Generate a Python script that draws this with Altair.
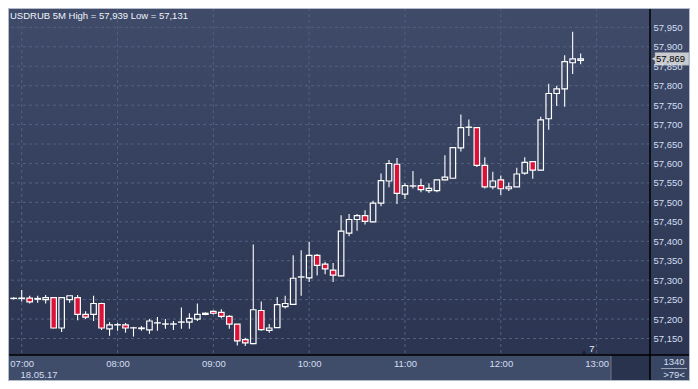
import altair as alt
import pandas as pd

# ---- data (USDRUB 5M, 18.05.17) ----
start_min = 6 * 60 + 55  # first candle 06:55
opens = [57.253, 57.253, 57.254, 57.251, 57.250, 57.255, 57.177, 57.250, 57.255, 57.212,
         57.212, 57.240, 57.175, 57.185, 57.185, 57.177, 57.1755, 57.172, 57.190, 57.187,
         57.187, 57.192, 57.192, 57.200, 57.212, 57.220, 57.217, 57.207, 57.187, 57.147,
         57.137, 57.222, 57.171, 57.178, 57.232, 57.238, 57.308, 57.306, 57.364, 57.341,
         57.326, 57.311, 57.421, 57.456, 57.466, 57.450, 57.498, 57.555, 57.598, 57.521,
         57.542, 57.543, 57.530, 57.530, 57.558, 57.562, 57.640, 57.693, 57.692, 57.595,
         57.540, 57.558, 57.535, 57.540, 57.575, 57.605, 57.583, 57.715, 57.780, 57.792,
         57.859, 57.865]
highs = [57.256, 57.275, 57.260, 57.260, 57.262, 57.257, 57.256, 57.260, 57.262, 57.220,
         57.260, 57.242, 57.192, 57.190, 57.190, 57.180, 57.182, 57.200, 57.205, 57.200,
         57.195, 57.230, 57.215, 57.240, 57.217, 57.222, 57.225, 57.210, 57.187, 57.152,
         57.392, 57.245, 57.187, 57.257, 57.260, 57.364, 57.377, 57.399, 57.367, 57.347,
         57.344, 57.467, 57.470, 57.470, 57.480, 57.504, 57.574, 57.609, 57.614, 57.549,
         57.581, 57.561, 57.549, 57.559, 57.621, 57.642, 57.726, 57.713, 57.694, 57.616,
         57.579, 57.569, 57.551, 57.589, 57.616, 57.606, 57.720, 57.805, 57.800, 57.878,
         57.939, 57.883]
lows = [57.250, 57.245, 57.240, 57.242, 57.240, 57.176, 57.167, 57.242, 57.197, 57.200,
        57.195, 57.172, 57.157, 57.170, 57.165, 57.155, 57.170, 57.162, 57.170, 57.175,
        57.172, 57.175, 57.175, 57.195, 57.210, 57.212, 57.202, 57.175, 57.132, 57.131,
        57.135, 57.170, 57.165, 57.177, 57.227, 57.237, 57.260, 57.295, 57.312, 57.315,
        57.295, 57.310, 57.413, 57.427, 57.443, 57.449, 57.490, 57.539, 57.496, 57.509,
        57.536, 57.526, 57.524, 57.526, 57.556, 57.561, 57.631, 57.671, 57.591, 57.536,
        57.534, 57.519, 57.529, 57.540, 57.571, 57.561, 57.582, 57.687, 57.748, 57.746,
        57.830, 57.855]
closes = [57.2535, 57.254, 57.244, 57.253, 57.255, 57.177, 57.255, 57.260, 57.212, 57.205,
          57.240, 57.177, 57.185, 57.1855, 57.177, 57.1775, 57.177, 57.195, 57.1905, 57.1875,
          57.1875, 57.1925, 57.202, 57.212, 57.215, 57.215, 57.207, 57.187, 57.144, 57.139,
          57.224, 57.173, 57.177, 57.237, 57.240, 57.305, 57.3085, 57.364, 57.338, 57.329,
          57.313, 57.426, 57.456, 57.466, 57.451, 57.498, 57.556, 57.600, 57.523, 57.543,
          57.5425, 57.533, 57.536, 57.558, 57.565, 57.641, 57.692, 57.6935, 57.595, 57.540,
          57.555, 57.535, 57.540, 57.573, 57.603, 57.583, 57.712, 57.780, 57.792, 57.862,
          57.869, 57.869]
times = [start_min + 5 * i for i in range(len(opens))]

y_ticks = [57.15, 57.20, 57.25, 57.30, 57.35, 57.40, 57.45, 57.50, 57.55,
           57.60, 57.65, 57.70, 57.75, 57.80, 57.85, 57.90, 57.95]
x_ticks = [420, 480, 540, 600, 660, 720, 780]  # 07:00 ... 13:00
title_text = "USDRUB 5M High = 57,939 Low = 57,131"
date_text = "18.05.17"
last_price = [57.869]
last_label = ["57,869"]

W, H = 642, 347
RP, BP = 40, 26
FONT = "Liberation Sans"
LABEL = "#d3def1"
FS = 9.5

df = pd.DataFrame({"t": times, "o": opens, "h": highs, "l": lows, "c": closes})

xs = alt.Scale(domain=[414.55, 810.3], nice=False, zero=False)
ys = alt.Scale(domain=[57.1076, 57.9998], nice=False, zero=False)

x_axis = alt.Axis(values=x_ticks, title=None, grid=False, ticks=False, domain=False,
                  labelExpr="(floor(datum.value/60) < 10 ? '0' : '') + floor(datum.value/60) + ':00'",
                  labelFont=FONT, labelFontSize=FS, labelColor=LABEL,
                  labelBaseline="middle", labelPadding=8, labelFlush=False,
                  labelOverlap=False, orient="bottom")
y_axis = alt.Axis(values=y_ticks, title=None, grid=False, ticks=False, domain=False,
                  orient="right", labelExpr="replace(format(datum.value, '.3f'), '.', ',')",
                  labelFont=FONT, labelFontSize=FS, labelColor=LABEL,
                  labelPadding=3, labelFlush=False, labelOverlap=False, zindex=1)

one = pd.DataFrame({"a": [0]})

bg = alt.Chart(one).mark_rect(
    color=alt.Gradient(gradient="linear",
                       stops=[alt.GradientStop(color="#3f4b69", offset=0),
                              alt.GradientStop(color="#2b3552", offset=1)],
                       x1=0, x2=0, y1=0, y2=1)
).encode(x=alt.value(0), x2=alt.value(W + RP), y=alt.value(0), y2=alt.value(H))

corner = alt.Chart(one).mark_rect(color="#394663").encode(
    x=alt.value(W), x2=alt.value(W + RP), y=alt.value(H), y2=alt.value(H + BP))

scroll = alt.Chart(one).mark_rect(color="#29334e").encode(
    x=alt.value(603), x2=alt.value(W), y=alt.value(H), y2=alt.value(H + BP))
scroll_edge = alt.Chart(one).mark_rule(color="#6c768c", strokeWidth=1).encode(
    x=alt.value(603), y=alt.value(H + 1), y2=alt.value(H + BP - 1))

grid_y = alt.Chart(pd.DataFrame({"v": y_ticks})).mark_rule(
    color="#53617f", strokeWidth=1, strokeDash=[3, 3]
).encode(y=alt.Y("v:Q", scale=ys, axis=y_axis))

grid_x = alt.Chart(pd.DataFrame({"v": x_ticks})).mark_rule(
    color="#53617f", strokeWidth=1, strokeDash=[3, 3]
).encode(x=alt.X("v:Q", scale=xs, axis=x_axis))

base = alt.Chart(df).transform_calculate(
    bot="min(datum.o, datum.c)", top="max(datum.o, datum.c)")

wick_lo = base.mark_rule(color="white", strokeWidth=1.1).encode(
    x=alt.X("t:Q", scale=xs, axis=x_axis),
    y=alt.Y("l:Q", scale=ys, axis=y_axis), y2="bot:Q")
wick_hi = base.mark_rule(color="white", strokeWidth=1.1).encode(
    x=alt.X("t:Q", scale=xs, axis=x_axis),
    y=alt.Y("top:Q", scale=ys, axis=y_axis), y2="h:Q")

body = base.mark_bar(size=5.5, stroke="white", strokeWidth=1.2).encode(
    x=alt.X("t:Q", scale=xs, axis=x_axis),
    y=alt.Y("o:Q", scale=ys, axis=y_axis), y2="c:Q",
    color=alt.condition("datum.c < datum.o", alt.value("#dc1138"), alt.value("transparent")))

axis_h = alt.Chart(one).mark_rule(color="black", strokeWidth=1.5).encode(
    x=alt.value(0), x2=alt.value(W + RP), y=alt.value(H))
axis_v = alt.Chart(one).mark_rule(color="black", strokeWidth=1.5).encode(
    x=alt.value(W), y=alt.value(0), y2=alt.value(H + BP))

tag_df = pd.DataFrame({"p": last_price, "s": last_label})
tag = alt.Chart(tag_df).transform_calculate(
    p1="datum.p - 0.0165", p2="datum.p + 0.0165"
).mark_rect(color="#c9cbd0", stroke="#8e939c", strokeWidth=0.6).encode(
    x=alt.value(W + 5), x2=alt.value(W + RP - 1),
    y=alt.Y("p1:Q", scale=ys, axis=y_axis), y2="p2:Q")
tag_arrow = alt.Chart(tag_df).mark_point(shape="triangle-left", filled=True,
                                         color="#c9cbd0", size=28, opacity=1).encode(
    x=alt.value(W + 4), y=alt.Y("p:Q", scale=ys, axis=y_axis))
tag_text = alt.Chart(tag_df).mark_text(align="left", baseline="middle", font=FONT,
                                       fontSize=FS, color="black").encode(
    x=alt.value(W + 6), y=alt.Y("p:Q", scale=ys, axis=y_axis), text="s:N")

title = alt.Chart(pd.DataFrame({"s": [title_text]})).mark_text(
    align="left", baseline="middle", font=FONT, fontSize=9.5, color="#eef3fa"
).encode(x=alt.value(2), y=alt.value(8), text="s:N")

date_lbl = alt.Chart(pd.DataFrame({"s": [date_text]})).mark_text(
    align="center", baseline="middle", font=FONT, fontSize=FS, color=LABEL
).encode(x=alt.value(31), y=alt.value(H + 19.5), text="s:N")

marker_tri = alt.Chart(one).mark_point(shape="triangle-up", filled=True, color="#1d2337",
                                       size=22, opacity=1).encode(
    x=alt.value(576), y=alt.value(H - 3))
marker_txt = alt.Chart(pd.DataFrame({"s": ["7"]})).mark_text(
    align="center", baseline="middle", font=FONT, fontSize=FS, color="#e6edf8"
).encode(x=alt.value(584), y=alt.value(H - 6), text="s:N")

c1 = alt.Chart(pd.DataFrame({"s": ["1340"]})).mark_text(
    align="center", baseline="middle", font=FONT, fontSize=FS, color=LABEL
).encode(x=alt.value(W + 24), y=alt.value(H + 7), text="s:N")
c_line = alt.Chart(one).mark_rule(color="#9aa3b6", strokeWidth=1).encode(
    x=alt.value(W + 11), x2=alt.value(W + 37), y=alt.value(H + 13.5))
c2 = alt.Chart(pd.DataFrame({"s": [">79<"]})).mark_text(
    align="center", baseline="middle", font=FONT, fontSize=FS, color=LABEL
).encode(x=alt.value(W + 24), y=alt.value(H + 19.5), text="s:N")

border = alt.Chart(one).mark_rect(fill="transparent", stroke="#b4bccb", strokeWidth=2).encode(
    x=alt.value(0), x2=alt.value(W + RP), y=alt.value(0), y2=alt.value(H + BP))

chart = alt.layer(
    bg, corner, scroll, scroll_edge, grid_y, grid_x, wick_lo, wick_hi, body,
    axis_h, axis_v, tag, tag_arrow, tag_text, title, date_lbl, marker_tri, marker_txt,
    c1, c_line, c2, border
).properties(
    width=W, height=H,
    padding={"left": 0, "top": 0, "right": RP, "bottom": BP},
    autosize=alt.AutoSizeParams(type="none"),
).configure(background="#404d6a").configure_view(stroke=None)

chart.save("out.html", embed_options={"renderer": "svg", "actions": False})
